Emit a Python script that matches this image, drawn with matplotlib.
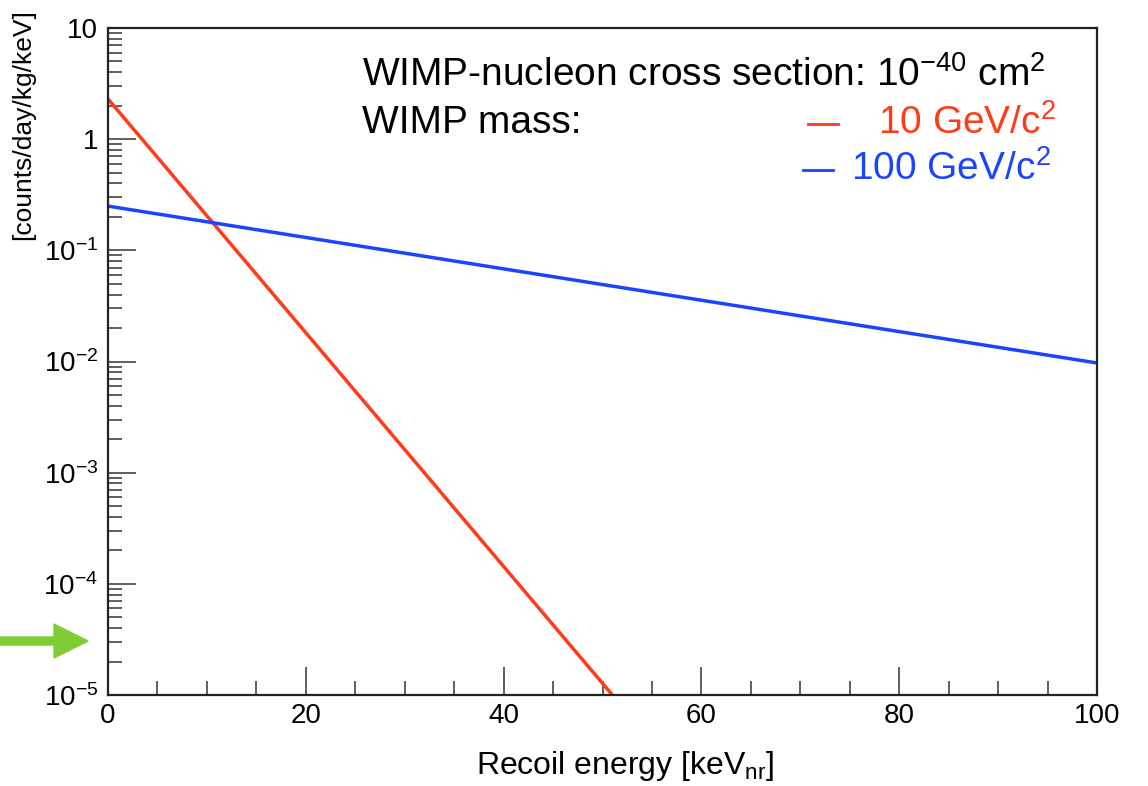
import numpy as np
import matplotlib
matplotlib.use("Agg")
import matplotlib.pyplot as plt
from matplotlib.ticker import FixedLocator, MultipleLocator, FixedFormatter

plt.rcParams['font.family'] = ['Liberation Sans', 'DejaVu Sans']
plt.rcParams['mathtext.fontset'] = 'custom'
plt.rcParams['mathtext.rm'] = 'Liberation Sans'
plt.rcParams['mathtext.it'] = 'Liberation Sans:italic'

# Data (straight lines on a log scale)
energy_10gev = [0, 51]
rate_10gev = [2.3, 1.0e-5]
energy_100gev = [0, 100]
rate_100gev = [0.25, 0.0097]

y_ticks = [1e-5, 1e-4, 1e-3, 1e-2, 1e-1, 1, 10]
y_labels = [r'$10^{-5}$', r'$10^{-4}$', r'$10^{-3}$', r'$10^{-2}$', r'$10^{-1}$', '1', '10']
x_ticks = [0, 20, 40, 60, 80, 100]

red = '#ff3b1a'
blue = '#1a44ff'

W, H = 1148, 786
fig = plt.figure(figsize=(W / 100, H / 100), dpi=100)
ax = fig.add_axes([108/W, 1 - 695/H, (1097-108)/W, (695-28)/H])


def fx(px):
    return px / W


def fy(py):
    return 1 - py / H


ax.plot(energy_10gev, rate_10gev, color=red, lw=2.5, solid_capstyle='butt')
ax.plot(energy_100gev, rate_100gev, color=blue, lw=2.5, solid_capstyle='butt')

ax.set_yscale('log')
ax.set_xlim(0, 100)
ax.set_ylim(1e-5, 10)

ax.yaxis.set_major_locator(FixedLocator(y_ticks))
ax.yaxis.set_major_formatter(FixedFormatter(y_labels))
minor = [m * 10.0**e for e in range(-5, 1) for m in range(2, 10)]
ax.yaxis.set_minor_locator(FixedLocator(minor))
ax.set_xticks(x_ticks)
ax.xaxis.set_minor_locator(MultipleLocator(5))

ax.tick_params(which='both', direction='in', top=False, right=False, color='#444444', width=1.2)
ax.tick_params(which='major', length=20, labelsize=20, pad=6)
ax.tick_params(which='minor', length=10)
ax.tick_params(axis='y', pad=7)
for s in ax.spines.values():
    s.set_color('#222222')
    s.set_linewidth(1.6)

ax.set_xlabel(r'Recoil energy [keV$_{\rm nr}$]', fontsize=23, va='center')
ax.xaxis.set_label_coords((625 - 108) / 989, -(766 - 695) / 667)
ax.set_ylabel('[counts/day/kg/keV]', fontsize=19)
ax.yaxis.set_label_coords((35 - 108) / 989, (695 - 125) / 667)

fig.text(fx(362), fy(75), r'WIMP-nucleon cross section: 10$^{-40}$ cm$^2$',
         fontsize=28, va='center', ha='left')
fig.text(fx(362), fy(123), 'WIMP mass:', fontsize=28, va='center', ha='left')

# legend
ax.plot([fx(808), fx(838)], [fy(124)] * 2, transform=fig.transFigure, color=red, lw=2, clip_on=False)
ax.plot([fx(803), fx(833)], [fy(170)] * 2, transform=fig.transFigure, color=blue, lw=2, clip_on=False)
fig.text(fx(1056), fy(123), r'10 GeV/c$^2$', color=red, fontsize=28, ha='right', va='center')
fig.text(fx(1051), fy(169), r'100 GeV/c$^2$', color=blue, fontsize=28, ha='right', va='center')

# green arrow pointing at the axis
fig.patches.append(matplotlib.patches.FancyArrow(
    0, fy(641), 88/W, 0, width=8/H, head_width=34/H, head_length=34/W,
    length_includes_head=True, color='#80cc33', transform=fig.transFigure))

fig.savefig('out.png', dpi=100)
